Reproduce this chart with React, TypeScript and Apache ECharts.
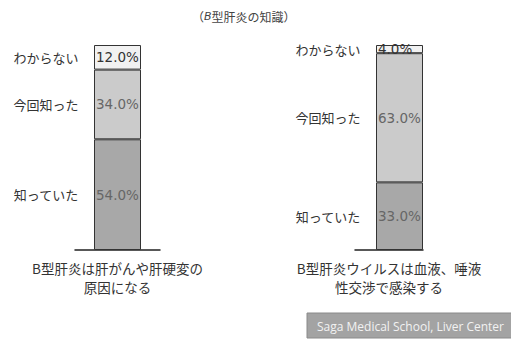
import React, { useEffect, useRef } from "react";
import * as echarts from "echarts";

const categoriesLeft = ["B型肝炎は肝がんや肝硬変の\n原因になる"];
const categoriesRight = ["B型肝炎ウイルスは血液、唾液\n性交渉で感染する"];
const segmentNames = ["知っていた", "今回知った", "わからない"];
const leftValues = [54.0, 34.0, 12.0];
const rightValues = [33.0, 63.0, 4.0];
const segmentColors = ["#a8a8a8", "#cbcbcb", "#f1f1f1"];
const valueColors = ["#666666", "#666666", "#333333"];
const titleText = "（{i|B}型肝炎の知識）";
const creditText = "Saga Medical School, Liver Center";

const JP = '"Noto Sans CJK JP", sans-serif';

export default function App() {
  const ref = useRef<HTMLDivElement>(null);
  useEffect(() => {
    if (!ref.current) return;
    const chart = echarts.init(ref.current, null, { renderer: "svg" });
    const mkSeries = (values: number[], idx: number, stack: string) =>
      values.map((v, i) => ({
        type: "bar",
        name: segmentNames[i],
        stack,
        xAxisIndex: idx,
        yAxisIndex: idx,
        barWidth: 47,
        barGap: "0%",
        data: [v],
        itemStyle: { color: segmentColors[i], borderColor: "#333", borderWidth: 1 },
        label: {
          show: true,
          position: "insideLeft",
          distance: 0,
          offset: [-80, 0],
          formatter: (p: any) => `{n|${p.seriesName}}{v|${Number(p.value).toFixed(1)}%}`,
          rich: {
            n: { width: 64, align: "right", fontFamily: JP, fontSize: 13, color: "#333" },
            v: { padding: [0, 0, 0, 18], fontFamily: "DejaVu Sans", fontSize: 13.5, color: valueColors[i] },
          },
        },
      }));
    const axisCommon = {
      type: "category",
      axisTick: { show: false },
      axisLine: { lineStyle: { color: "#222", width: 1.5 } },
      axisLabel: { interval: 0, fontFamily: JP, fontSize: 13.5, lineHeight: 19, color: "#333", margin: 8 },
    };
    chart.setOption({
      animation: false,
      backgroundColor: "#ffffff",
      grid: [
        { left: 75, width: 85, top: 45, height: 205 },
        { left: 355, width: 68, top: 45, height: 205 },
      ],
      xAxis: [
        { ...axisCommon, gridIndex: 0, data: categoriesLeft },
        { ...axisCommon, gridIndex: 1, data: categoriesRight },
      ],
      yAxis: [
        { type: "value", gridIndex: 0, min: 0, max: 100, show: false },
        { type: "value", gridIndex: 1, min: 0, max: 100, show: false },
      ],
      series: [
        ...mkSeries(leftValues, 0, "a"),
        {
          type: "bar",
          name: "spacer",
          xAxisIndex: 1,
          yAxisIndex: 1,
          barWidth: 21,
          barGap: "0%",
          data: ["-"],
          silent: true,
        },
        ...mkSeries(rightValues, 1, "b"),
      ],
      graphic: [
        {
          type: "text",
          left: 192,
          top: 10,
          style: {
            text: titleText,
            font: `12px ${JP}`,
            fill: "#444",
            rich: { i: { fontStyle: "italic", fontFamily: "DejaVu Sans", fontSize: 11, fill: "#444" } },
          },
        },
        {
          type: "rect",
          shape: { x: 307, y: 313, width: 210, height: 25 },
          style: { fill: "#a3a3a3", stroke: "#8a8a8a", lineWidth: 1 },
        },
        {
          type: "text",
          x: 317,
          y: 326,
          style: {
            text: creditText,
            font: '12px "Open Sans", sans-serif',
            fill: "#f2f2f2",
            textVerticalAlign: "middle",
          },
        },
      ],
    } as any);
    return () => chart.dispose();
  }, []);
  return <div ref={ref} style={{ width: 511, height: 344, position: "fixed", left: 0, top: 0 }} />;
}
